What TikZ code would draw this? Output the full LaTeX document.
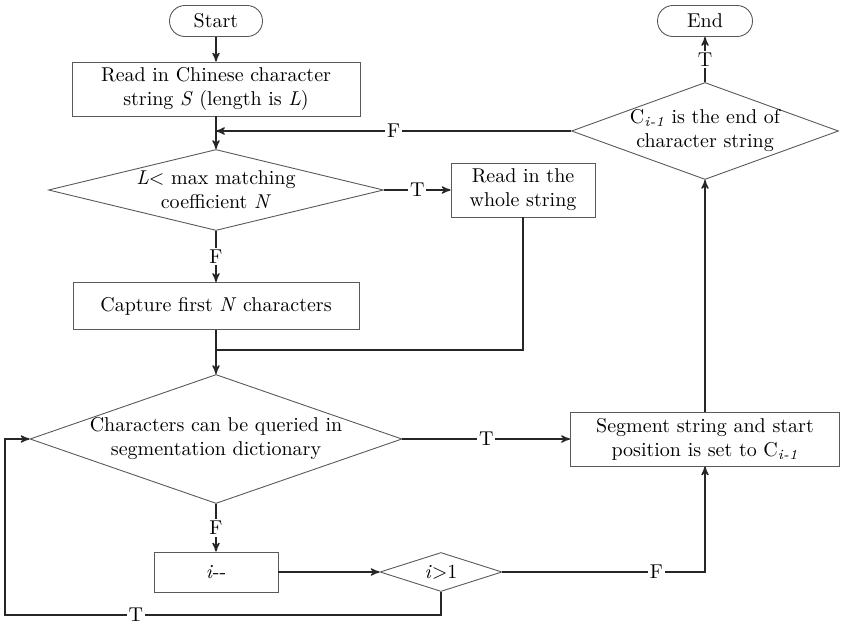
\documentclass[tikz,border=0pt]{standalone}
\usepackage{tikz}
\usetikzlibrary{arrows,shapes.geometric}
\tikzset{
	box/.style = {rectangle, draw=black!65, line width=0.45pt, align=center,
		inner sep=0pt, font=\fontsize{10}{12}\selectfont},
	term/.style = {box, rounded corners=7.7pt},
	dec/.style = {diamond, draw=black!65, line width=0.45pt, inner sep=0pt},
	dectext/.style = {align=center, inner sep=0pt, font=\fontsize{10}{12}\selectfont},
	lbl/.style = {fill=white, inner sep=1pt, font=\fontsize{10}{12}\selectfont},
	flow/.style = {line width=0.65pt, draw=black!85}
}
\begin{document}
\begin{tikzpicture}[x=0.5pt,y=-0.5pt,>=stealth']
\useasboundingbox (0,0) rectangle (850,630);
% blocks
\node [term, minimum width=46.5pt, minimum height=15.5pt] (start) at (216,21) {Start};
\node [term, minimum width=47.5pt, minimum height=15.5pt] (end) at (705,21) {End};
\node [box, minimum width=144pt, minimum height=27pt] (read) at (216,89)
	{Read in Chinese character\\string \textit{S} (length is \textit{L})};
\node [dec, minimum width=167.5pt, minimum height=40.5pt] (lcheck) at (216,190) {};
\node [dectext] (lchecktxt) at (lcheck) {\textit{L}< max matching\\coefficient \textit{N}};
\node [box, minimum width=72pt, minimum height=27pt] (whole) at (523,190)
	{Read in the\\whole string};
\node [box, minimum width=143pt, minimum height=23.5pt] (capture) at (216,306)
	{Capture first \textit{N} characters};
\node [dec, minimum width=186pt, minimum height=64.5pt] (query) at (216,439) {};
\node [dectext] (querytxt) at (query) {Characters can be queried in\\segmentation dictionary};
\node [box, minimum width=134.5pt, minimum height=27pt] (segment) at (705,439)
	{Segment string and start\\position is set to C\textsubscript{\textit{i-1}}};
\node [box, minimum width=62pt, minimum height=20pt] (dec) at (216,572) {\textit{i}-{}-};
\node [dec, minimum width=61pt, minimum height=19.5pt] (icheck) at (441,572) {};
\node [dectext] (ichecktxt) at (icheck) {\textit{i}>1};
\node [dec, minimum width=133.5pt, minimum height=48.5pt] (strend) at (705,131) {};
\node [dectext] (strendtxt) at (strend) {C\textsubscript{\textit{i-1}} is the end of\\character string};
\coordinate (join) at (216,131);
\coordinate (merge) at (216,350);
\coordinate (loopa) at (441,615);
\coordinate (loopb) at (5,615);
\coordinate (loopc) at (5,439);
% connectors
\draw [flow,->] (start) -- (read);
\draw [flow,->] (read) -- (lcheck);
\draw [flow,->] (strend.west) -- node[lbl] {F} (join);
\draw [flow,->] (lcheck.east) -- node[lbl] {T} (whole);
\draw [flow,->] (lcheck.south) -- node[lbl] {F} (capture);
\draw [flow,->] (capture) -- (query.north);
\draw [flow] (whole.south) |- (merge);
\draw [flow,->] (query.east) -- node[lbl] {T} (segment);
\draw [flow,->] (query.south) -- node[lbl] {F} (dec);
\draw [flow,->] (dec) -- (icheck.west);
\draw [flow,->] (icheck.east) -| node[lbl, pos=0.38] {F} (segment.south);
\draw [flow,->] (icheck.south) -- (loopa) -- node[lbl, pos=0.70] {T} (loopb)
	-- (loopc) -- (query.west);
\draw [flow,->] (segment.north) -- (strend.south);
\draw [flow,->] (strend.north) -- node[lbl] {T} (end);
\end{tikzpicture}
\end{document}
